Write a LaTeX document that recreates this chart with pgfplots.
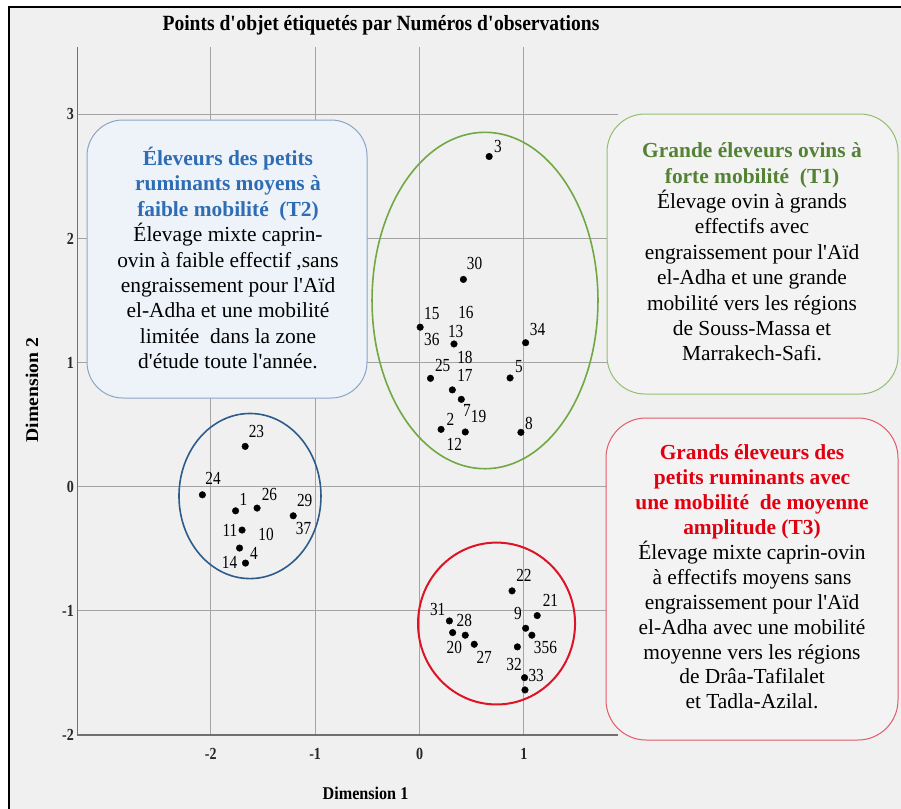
\documentclass[border=0pt]{standalone}
\usepackage{fontspec}
\setmainfont{Liberation Serif}
\newfontfamily\cond[FakeStretch=0.83]{Liberation Serif}
\newfontfamily\titlef[FakeStretch=0.9]{Liberation Serif}
\newfontfamily\dimf[FakeStretch=1.1]{Liberation Serif}
\usepackage{pgfplots}
\pgfplotsset{compat=1.18}
\newcommand{\q}{\textquotesingle}
\definecolor{bg}{HTML}{F0F0F0}
\definecolor{gridgray}{HTML}{A4A4A4}
\definecolor{axisgray}{HTML}{707070}
\definecolor{ellblue}{HTML}{2E5C8A}
\definecolor{ellgreen}{HTML}{70A844}
\definecolor{ellred}{HTML}{DC1426}
\definecolor{boxblue}{HTML}{8AA5C8}
\definecolor{fillblue}{HTML}{EEF3F9}
\definecolor{boxgreen}{HTML}{94BF70}
\definecolor{boxred}{HTML}{E35A6A}
\definecolor{fillgray}{HTML}{F3F3F3}
\definecolor{tblue}{HTML}{2E6DB4}
\definecolor{tgreen}{HTML}{548235}
\definecolor{tred}{HTML}{E00010}
\begin{document}
\begin{tikzpicture}
\path[use as bounding box] (0,0) rectangle (901bp,-809bp);
\fill[white] (0,0) rectangle (901bp,-809bp);
\fill[bg] (9bp,-7bp) rectangle (901bp,-809bp);
\begin{axis}[
  at={(77.3bp,-735bp)}, anchor=south west,
  scale only axis, width=540.6bp, height=688.3bp,
  xmin=-3.278, xmax=1.9, ymin=-2, ymax=3.5446,
  axis lines=left,
  axis line style={-, draw=axisgray, line width=1.6bp},
  every inner x axis line/.append style={-},
  every outer x axis line/.append style={-},
  every inner y axis line/.append style={-},
  every outer y axis line/.append style={-},
  xtick={-2,-1,0,1}, ytick={-2,-1,0,1,2,3},
  major tick length=0pt,
  grid=major, grid style={draw=gridgray, line width=1bp},
  /pgf/number format/assume math mode=true,
  ticklabel style={font=\fontsize{17}{17}\selectfont\cond\bfseries, text=black!85},
  xticklabel style={yshift=-10bp},
  clip=false,
]
\addplot[only marks, mark=*, mark size=3.3bp, black] table {
x y
0.667 2.66
0.42 1.67
0.006 1.285
0.33 1.15
1.016 1.16
0.105 0.873
0.867 0.876
0.314 0.78
0.40 0.704
0.206 0.462
0.438 0.441
0.971 0.438
-1.67 0.325
-2.08 -0.065
-1.556 -0.172
-1.762 -0.194
-1.21 -0.234
-1.70 -0.349
-1.724 -0.494
-1.667 -0.615
0.886 -0.839
1.127 -1.038
0.286 -1.081
0.317 -1.175
0.438 -1.196
1.016 -1.14
1.076 -1.196
0.524 -1.269
0.937 -1.29
1.006 -1.538
1.01 -1.637
};
\addplot[draw=none, mark=none, nodes near coords, point meta=explicit symbolic,
  every node near coord/.style={anchor=center, inner sep=0pt, text=black, font=\fontsize{18.5}{18.5}\selectfont\cond}]
  table[meta=lab] {
x y lab
0.752 2.742 3
0.527 1.796 30
0.117 1.393 15
0.444 1.406 16
0.117 1.185 36
0.346 1.25 13
1.13 1.266 34
0.435 1.038 18
0.222 0.976 25
0.435 0.893 17
0.952 0.968 5
0.454 0.613 7
0.565 0.565 19
0.295 0.54 2
0.333 0.339 12
1.048 0.51 8
-1.562 0.444 23
-1.978 0.065 24
-1.438 -0.059 26
-1.686 -0.099 1
-1.10 -0.113 29
-1.111 -0.336 37
-1.816 -0.355 11
-1.47 -0.382 10
-1.587 -0.535 4
-1.819 -0.61 14
1.0 -0.718 22
1.254 -0.919 21
0.174 -0.992 31
0.429 -1.075 28
0.943 -1.019 9
0.333 -1.296 20
0.619 -1.371 27
1.206 -1.296 356
0.905 -1.43 32
1.117 -1.519 33
};
\draw[ellgreen, line width=1.6bp] (axis cs:0.627,1.5) ellipse [x radius=1.082, y radius=1.355];
\draw[ellblue, line width=1.6bp] (axis cs:-1.624,-0.075) ellipse [x radius=0.68, y radius=0.665];
\draw[ellred, line width=2bp] (axis cs:0.7375,-1.102) ellipse [x radius=0.752, y radius=0.652];
\end{axis}
% annotation boxes
\draw[boxblue, line width=1bp, fill=fillblue, rounded corners=36bp] (87bp,-120bp) rectangle (367bp,-398bp);
\draw[boxgreen, line width=1bp, fill=fillgray, rounded corners=38bp] (607bp,-114bp) rectangle (898bp,-394bp);
\draw[boxred, line width=1bp, fill=fillgray, rounded corners=40bp] (606bp,-418bp) rectangle (898bp,-740bp);
\node[align=center, inner sep=0pt, font=\fontsize{21.5}{25.5}\selectfont] at (228bp,-258bp)
 {\textcolor{tblue}{\textbf{Éleveurs des petits}}\\
  \textcolor{tblue}{\textbf{ruminants moyens à}}\\
  \textcolor{tblue}{\textbf{faible mobilité\ \ (T2)}}\\
  Élevage mixte caprin-\\
  ovin à faible effectif ,sans\\
  engraissement pour l\q Aïd\\
  el-Adha et une mobilité\\
  limitée\ \ dans la zone\\
  d\q étude toute l\q année.};
\node[align=center, inner sep=0pt, font=\fontsize{21.5}{25.5}\selectfont] at (752bp,-252bp)
 {\textcolor{tgreen}{\textbf{Grande éleveurs ovins à}}\\
  \textcolor{tgreen}{\textbf{forte mobilité\ \ (T1)}}\\
  Élevage ovin à grands\\
  effectifs avec\\
  engraissement pour l\q Aïd\\
  el-Adha et une grande\\
  mobilité vers les régions\\
  de Souss-Massa et\\
  Marrakech-Safi.};
\node[align=center, inner sep=0pt, font=\fontsize{21.5}{25}\selectfont] at (752bp,-577bp)
 {\textcolor{tred}{\textbf{Grands éleveurs des}}\\
  \textcolor{tred}{\textbf{petits ruminants avec}}\\
  \textcolor{tred}{\textbf{une mobilité\ \ de moyenne}}\\
  \textcolor{tred}{\textbf{amplitude (T3)}}\\
  Élevage mixte caprin-ovin\\
  à effectifs moyens sans\\
  engraissement pour l\q Aïd\\
  el-Adha avec une mobilité\\
  moyenne vers les régions\\
  de Drâa-Tafilalet\\
  et Tadla-Azilal.};
% title and axis titles
\node[inner sep=0pt, font=\fontsize{21.8}{22}\selectfont\titlef\bfseries] at (381bp,-25bp) {Points d\q objet étiquetés par Numéros d\q observations};
\node[inner sep=0pt, rotate=90, font=\fontsize{18}{18}\selectfont\dimf\bfseries] at (32bp,-390bp) {Dimension 2};
\node[inner sep=0pt, font=\fontsize{18}{18}\selectfont\titlef\bfseries] at (365.5bp,-793bp) {Dimension 1};
% frame
\draw[black, line width=2.8bp] (9bp,-5.6bp) -- (9bp,-809bp);
\draw[black, line width=2.4bp] (7.6bp,-7bp) -- (901bp,-7bp);
\end{tikzpicture}
\end{document}
